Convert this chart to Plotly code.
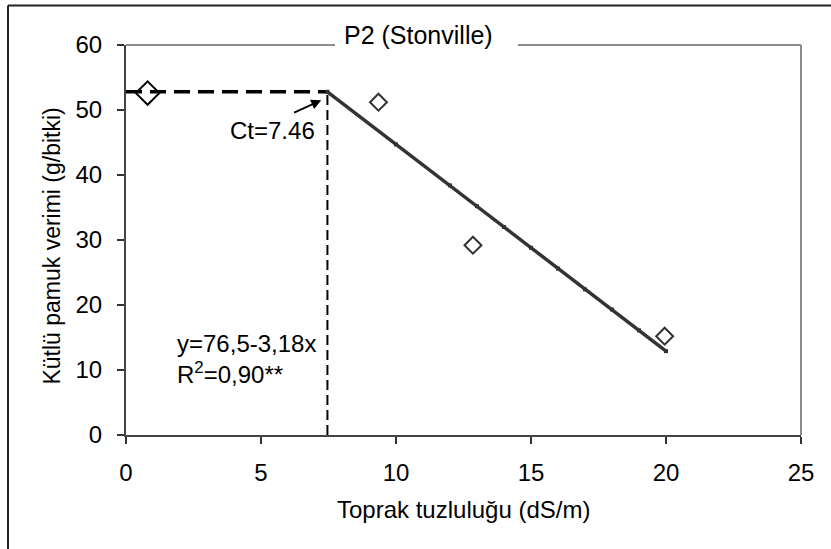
import plotly.graph_objects as go

# Observed yields (control separately)
control_x = [0.8]
control_y = [52.6]
obs_x = [9.35, 12.85, 19.95]
obs_y = [51.2, 29.2, 15.2]

# Fitted line (threshold-slope model)
fit_x = [7.46, 10, 12, 13, 14, 15, 16, 17, 18, 19, 20]
fit_y = [52.8, 44.7, 38.4, 35.2, 32.0, 28.8, 25.6, 22.4, 19.3, 16.1, 12.9]

# Plateau and threshold guide lines
plateau_x = [0, 7.46]
plateau_y = [52.8, 52.8]
ct_x = [7.46, 7.46]
ct_y = [0, 52.8]

x_ticks = [0, 5, 10, 15, 20, 25]
y_ticks = [0, 10, 20, 30, 40, 50, 60]

FONT = "Liberation Sans, Arial, sans-serif"
FS = 24

fig = go.Figure()

fig.add_trace(go.Scatter(x=plateau_x, y=plateau_y, mode="lines",
                         line=dict(color="black", width=3.5, dash="16px,8px"),
                         showlegend=False, hoverinfo="skip"))
fig.add_trace(go.Scatter(x=ct_x, y=ct_y, mode="lines",
                         line=dict(color="black", width=2, dash="10px,5px"),
                         showlegend=False, hoverinfo="skip"))
fig.add_trace(go.Scatter(x=fit_x, y=fit_y, mode="lines+markers",
                         line=dict(color="#333333", width=3.5),
                         marker=dict(symbol="square", size=4, color="#333333"),
                         showlegend=False))
fig.add_trace(go.Scatter(x=obs_x, y=obs_y, mode="markers",
                         marker=dict(symbol="diamond-open", size=13, color="#333333",
                                     line=dict(color="#333333", width=2)),
                         showlegend=False))
fig.add_trace(go.Scatter(x=control_x, y=control_y, mode="markers",
                         marker=dict(symbol="diamond-open", size=18, color="black",
                                     line=dict(color="black", width=2)),
                         showlegend=False))

axis_common = dict(showgrid=False, zeroline=False, showline=True,
                   linecolor="#444444", linewidth=2, ticks="outside",
                   ticklen=7, tickwidth=1.5, tickcolor="#333333",
                   tickfont=dict(family=FONT, size=FS, color="black"))

fig.update_xaxes(range=[0, 25], tickvals=x_ticks, ticklabelstandoff=8, **axis_common)
fig.update_yaxes(range=[0, 60], tickvals=y_ticks, ticklabelstandoff=10, **axis_common)

shapes = [
    # plot border top (with gap for title) and right, gray
    dict(type="line", xref="paper", yref="paper", x0=0, x1=0.3096, y0=1, y1=1,
         line=dict(color="#8c8c8c", width=2)),
    dict(type="line", xref="paper", yref="paper", x0=0.5807, x1=1, y0=1, y1=1,
         line=dict(color="#8c8c8c", width=2)),
    dict(type="line", xref="paper", yref="paper", x0=1, x1=1, y0=0, y1=1,
         line=dict(color="#8c8c8c", width=2)),
    # outer frame (left and top)
    dict(type="line", xref="paper", yref="paper", x0=-0.1748, x1=-0.1748,
         y0=-0.30, y1=1.1013, line=dict(color="#222222", width=2)),
    dict(type="line", xref="paper", yref="paper", x0=-0.1748, x1=1.06,
         y0=1.1013, y1=1.1013, line=dict(color="#222222", width=2)),
]

annotations = [
    dict(text="P2 (Stonville)", xref="paper", yref="paper", x=0.434, y=1.0256,
         showarrow=False, xanchor="center", yanchor="middle",
         font=dict(family=FONT, size=25, color="black")),
    dict(text="Ct=7.46", xref="x", yref="y", x=5.44, y=46.9, showarrow=False,
         xanchor="center", yanchor="middle",
         font=dict(family=FONT, size=FS, color="black")),
    dict(text="", xref="x", yref="y", x=7.23, y=51.5, axref="x", ayref="y",
         ax=6.17, ay=49.5, showarrow=True, arrowhead=2, arrowsize=1,
         arrowwidth=2, arrowcolor="black"),
    dict(text="y=76,5-3,18x<br>R<sup>2</sup>=0,90**", xref="x", yref="y",
         x=1.81, y=11.7, showarrow=False, xanchor="left", yanchor="middle",
         align="left", font=dict(family=FONT, size=FS, color="black")),
    dict(text="Toprak tuzluluğu (dS/m)", xref="paper", yref="paper",
         x=0.5, y=-0.192, showarrow=False, xanchor="center", yanchor="middle",
         font=dict(family=FONT, size=FS, color="black")),
    dict(text="Kütlü pamuk verimi (g/bitki)", xref="paper", yref="paper",
         x=-0.110, y=0.485, showarrow=False, xanchor="center", yanchor="middle",
         textangle=-90, font=dict(family=FONT, size=23, color="black")),
]

fig.update_layout(width=831, height=549,
                  margin=dict(l=126, r=30, t=45, b=114),
                  paper_bgcolor="white", plot_bgcolor="white",
                  shapes=shapes, annotations=annotations,
                  font=dict(family=FONT, size=FS, color="black"),
                  showlegend=False)

fig.write_html("out.html", config={"displayModeBar": False},
               post_script="document.body.style.margin='0';document.body.style.overflow='hidden';")
